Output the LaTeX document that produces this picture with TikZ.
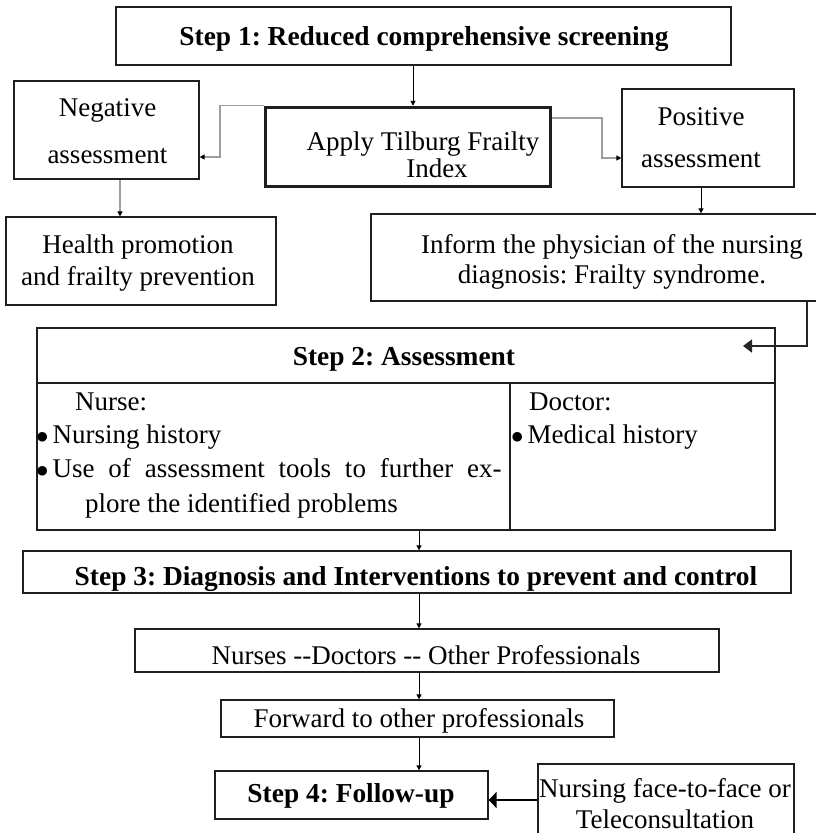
\documentclass[tikz,border=0pt]{standalone}
\usepackage{fontspec}
\setmainfont{Liberation Serif}
\usetikzlibrary{arrows.meta,calc}
\begin{document}
\frenchspacing
\begin{tikzpicture}[x=1pt,y=-1pt,
  box/.style={draw=black!88, line width=1.3pt, inner sep=0pt},
  thickbox/.style={draw=black!88, line width=3.5pt, inner sep=0pt},
  txt/.style={inner sep=0pt, anchor=base, font=\fontsize{27}{31}\selectfont\frenchspacing},
  btxt/.style={inner sep=0pt, anchor=base, font=\fontsize{27.4}{31}\selectfont\bfseries\frenchspacing},
  ltxt/.style={inner sep=0pt, anchor=base west, font=\fontsize{27}{31}\selectfont\frenchspacing},
  arr/.style={draw=black, line width=1pt, -{Triangle[length=5pt,width=5pt]}},
  garr/.style={draw=black!38, line width=1.3pt, -{Triangle[length=5pt,width=5pt,color=black]}},
  bigarr/.style={draw=black!85, line width=1.5pt, -{Triangle[length=9pt,width=13pt]}},
  fatarr/.style={draw=black, line width=2.2pt, -{Triangle[length=8pt,width=16pt]}}
]
\clip (0,0) rectangle (816,833);
\fill[white] (0,0) rectangle (816,833);

% boxes
\node[box, minimum width=615pt, minimum height=58pt] (s1) at (423.5,36) {};
\node[thickbox, minimum width=285pt, minimum height=79pt] (tfi) at (408,147) {};
\node[box, minimum width=185pt, minimum height=98pt] (neg) at (106.5,130) {};
\node[box, minimum width=172pt, minimum height=98pt] (pos) at (708,138) {};
\node[box, minimum width=270pt, minimum height=88pt] (health) at (141,261) {};
\node[box, minimum width=459pt, minimum height=87pt] (inform) at (600.5,257.5) {};
\node[box, minimum width=738pt, minimum height=202pt] (s2) at (406,429) {};
\node[box, minimum width=768pt, minimum height=42pt] (s3) at (407,572) {};
\node[box, minimum width=584pt, minimum height=43pt] (nurses) at (427,650.5) {};
\node[box, minimum width=393pt, minimum height=37pt] (fwd) at (417.5,718.5) {};
\node[box, minimum width=273pt, minimum height=48pt] (s4) at (351.5,795) {};
\node[box, minimum width=256pt, minimum height=81pt] (nursing) at (666,804.5) {};

% step 2 dividers
\coordinate (hy) at (0,383);
\coordinate (vx) at (510,383);
\draw[draw=black!88, line width=1.3pt] (s2.west |- hy) -- (s2.east |- hy);
\draw[draw=black!88, line width=1.3pt] (vx) -- (vx |- s2.south);

% texts
\node[btxt] (t1) at (424,45) {Step 1: Reduced comprehensive screening};
\node[txt] (t2a) at (423,150) {Apply Tilburg Frailty};
\node[txt] (t2b) at (437,177) {Index};
\node[txt] (t3a) at (107.5,116) {Negative};
\node[txt] (t3b) at (107.5,163) {assessment};
\node[txt] (t4a) at (701,125) {Positive};
\node[txt] (t4b) at (701,167) {assessment};
\node[txt] (t5a) at (138,253) {Health promotion};
\node[txt] (t5b) at (138,285) {and frailty prevention};
\node[txt] (t6a) at (612,253) {Inform the physician of the nursing};
\node[txt] (t6b) at (612,283) {diagnosis: Frailty syndrome.};
\node[btxt] (t7) at (404,365) {Step 2: Assessment};
\node[ltxt] (t8) at (75,410) {Nurse:};
\node[ltxt] (t9) at (36,443) {$\bullet$\hspace{4pt}Nursing history};
\node[ltxt] (t10) at (36,477) {$\bullet$\hspace{4pt}\makebox[449pt][s]{Use of assessment tools to further ex-}};
\node[ltxt] (t11) at (85,512) {plore the identified problems};
\node[ltxt] (t12) at (529,410) {Doctor:};
\node[ltxt] (t13) at (511,443) {$\bullet$\hspace{4pt}Medical history};
\node[btxt] (t14) at (416,585) {Step 3: Diagnosis and Interventions to prevent and control};
\node[txt] (t15) at (426,664) {Nurses -\kern0pt-Doctors -\kern0pt- Other Professionals};
\node[txt] (t16) at (419,727) {Forward to other professionals};
\node[btxt] (t17) at (351,802) {Step 4: Follow-up};
\node[txt] (t18a) at (665,797) {Nursing face-to-face or};
\node[txt] (t18b) at (665,828) {Teleconsultation};

% connectors
\coordinate (xa) at (413,0);
\draw[arr] (xa |- s1.south) -- (xa |- tfi.north);
\coordinate (gL) at (220,157);
\draw[garr] (tfi.north west) -| (gL) -- (gL -| neg.east);
\coordinate (r0) at (0,118);
\coordinate (gR) at (602,158);
\draw[garr] (tfi.east |- r0) -| (gR) -- (gR -| pos.west);
\coordinate (xn) at (120,0);
\draw[garr] (xn |- neg.south) -- (xn |- health.north);
\coordinate (xp) at (701,0);
\draw[arr] (xp |- pos.south) -- (xp |- inform.north);
\coordinate (i0) at (807,346);
\coordinate (i1) at (743,346);
\draw[bigarr] (i0 |- inform.south) -- (i0) -- (i1);
\coordinate (xc) at (419,0);
\draw[arr] (xc |- s2.south) -- (xc |- s3.north);
\draw[arr] (xc |- s3.south) -- (xc |- nurses.north);
\draw[arr] (xc |- nurses.south) -- (xc |- fwd.north);
\draw[arr] (xc |- fwd.south) -- (xc |- s4.north);
\coordinate (yf) at (0,800);
\draw[fatarr] (nursing.west |- yf) -- (s4.east |- yf);
\end{tikzpicture}
\end{document}
